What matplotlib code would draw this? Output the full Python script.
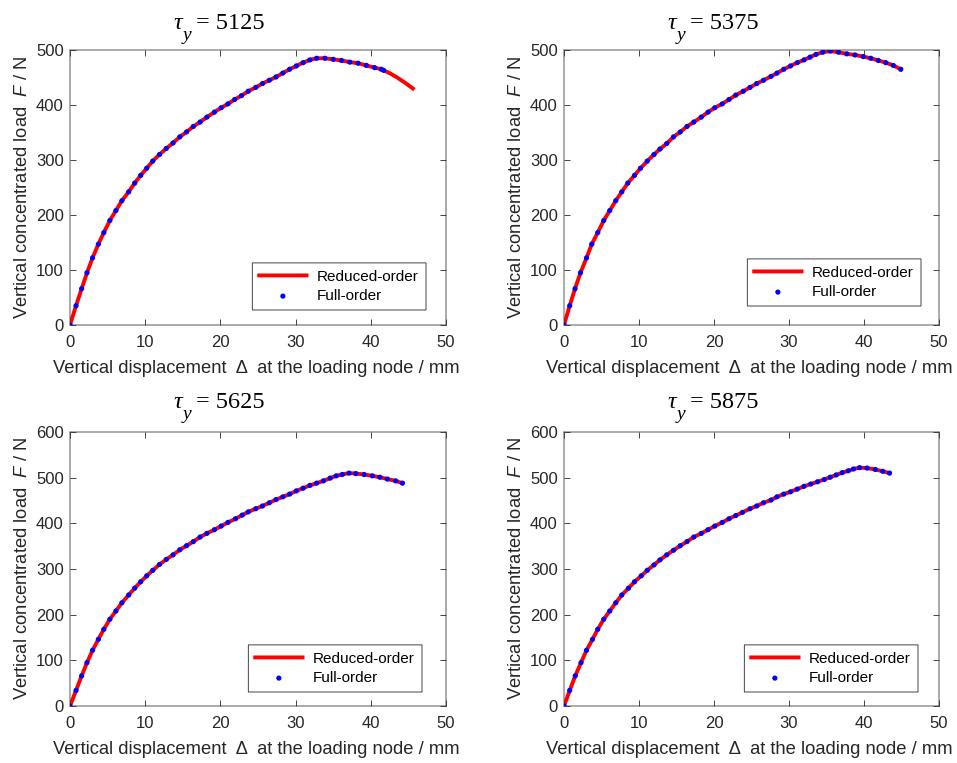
import matplotlib
matplotlib.use("Agg")
import matplotlib.pyplot as plt

plt.rcParams['font.family'] = ['Liberation Sans', 'DejaVu Sans']
plt.rcParams['mathtext.fontset'] = 'custom'
plt.rcParams['mathtext.it'] = 'Liberation Sans:italic'
plt.rcParams['mathtext.rm'] = 'Liberation Sans'
plt.rcParams['path.snap'] = False

titles = ['5125', '5375', '5625', '5875']

# Full-order results (displacement mm, load N)
full_x1 = [0, 0.8, 1.55, 2.26, 3.0, 3.77, 4.5, 5.3, 6.1, 6.9, 7.8, 8.6, 9.4, 10.2, 11.0, 11.9,
           12.8, 13.7, 14.6, 15.5, 16.4, 17.3, 18.2, 19.2, 20.1, 21.0, 21.9, 22.8, 23.7, 24.7,
           25.6, 26.5, 27.4, 28.3, 29.2, 30.1, 31.0, 31.9, 32.8, 33.9, 35.0, 36.1, 37.2, 38.3,
           39.4, 40.5, 41.4, 41.7]
full_y1 = [0, 35, 66, 95, 122, 147, 168, 190, 208, 226, 242, 258, 272, 285, 298, 310,
           321, 331, 342, 351, 361, 369, 378, 387, 395, 402, 410, 417, 425, 432,
           439, 445, 451, 458, 465, 471, 477, 482, 485, 485, 483, 481, 478, 476,
           472, 468, 465, 463]

full_x2 = [0, 0.76, 1.47, 2.2, 3.0, 3.7, 4.5, 5.3, 6.1, 6.9, 7.7, 8.5, 9.4, 10.2, 11.1, 12.0,
           12.8, 13.7, 14.6, 15.5, 16.4, 17.3, 18.3, 19.2, 20.1, 21.1, 22.0, 22.9, 23.9, 24.8,
           25.7, 26.6, 27.6, 28.4, 29.3, 30.2, 31.1, 32.0, 32.8, 33.6, 34.5, 35.5, 36.6, 37.7,
           38.8, 39.9, 40.9, 41.9, 42.9, 43.9, 44.9]
full_y2 = [0, 35, 66, 95, 122, 147, 168, 190, 208, 226, 242, 258, 272, 285, 298, 310,
           320, 330, 342, 351, 361, 369, 378, 387, 395, 402, 410, 418, 425, 432,
           439, 445, 452, 458, 465, 471, 477, 482, 487, 492, 496, 498, 496, 493,
           491, 488, 485, 481, 477, 472, 465]

full_x3 = [0, 0.8, 1.55, 2.26, 3.0, 3.77, 4.5, 5.3, 6.1, 6.9, 7.8, 8.6, 9.4, 10.2, 11.0, 11.9,
           12.8, 13.7, 14.6, 15.5, 16.4, 17.3, 18.2, 19.2, 20.1, 21.0, 22.0, 22.9, 23.7, 24.7,
           25.6, 26.5, 27.4, 28.3, 29.2, 30.1, 31.0, 31.9, 32.8, 33.7, 34.6, 35.4, 36.2, 37.1,
           38.0, 39.1, 40.2, 41.2, 42.2, 43.3, 44.2]
full_y3 = [0, 34, 66, 95, 122, 146, 168, 190, 208, 226, 243, 258, 272, 285, 297, 310,
           321, 331, 342, 351, 360, 370, 378, 386, 394, 402, 410, 418, 425, 432,
           438, 445, 452, 458, 464, 471, 477, 483, 488, 493, 499, 504, 507, 510,
           509, 507, 504, 501, 497, 493, 488]

full_x4 = [0, 0.76, 1.5, 2.27, 3.0, 3.8, 4.5, 5.3, 6.1, 6.9, 7.7, 8.6, 9.4, 10.3, 11.1, 12.0,
           12.8, 13.7, 14.6, 15.5, 16.4, 17.3, 18.3, 19.2, 20.1, 21.1, 22.0, 22.9, 23.8, 24.8,
           25.7, 26.6, 27.6, 28.4, 29.3, 30.2, 31.1, 32.0, 32.9, 33.8, 34.7, 35.5, 36.3, 37.1,
           37.9, 38.6, 39.4, 40.4, 41.5, 42.5, 43.4]
full_y4 = [0, 34, 66, 95, 122, 146, 168, 190, 208, 226, 243, 258, 272, 285, 297, 309,
           320, 331, 341, 351, 360, 370, 378, 386, 394, 402, 410, 417, 424, 432,
           438, 445, 451, 458, 464, 469, 475, 481, 486, 491, 496, 501, 506, 511,
           515, 519, 522, 521, 518, 514, 510]

# Reduced-order extra tail (only the first case extends beyond full-order)
tail_x1 = [42.5, 43.5, 44.5, 45.6]
tail_y1 = [458, 450, 441, 430]

red_x = [full_x1 + tail_x1, full_x2, full_x3, full_x4]
red_y = [full_y1 + tail_y1, full_y2, full_y3, full_y4]
full_x = [full_x1, full_x2, full_x3, full_x4]
full_y = [full_y1, full_y2, full_y3, full_y4]
ylims = [500, 500, 600, 600]

fig = plt.figure(figsize=(9.57, 7.63), dpi=100)
W, H = 957, 763
boxes = [(70, 50, 446, 325), (564, 50, 939, 325), (70, 432, 446, 706), (564, 432, 939, 706)]
title_rise = [21, 21, 24, 24]
leg_gap = [(20, 15), (18, 19), (24, 14), (21, 14)]
tc = '#262626'
serif = ['Liberation Serif', 'DejaVu Serif']
for i, (l, t, r, b) in enumerate(boxes):
    w, h = r - l, b - t
    ax = fig.add_axes([l / W, 1 - b / H, w / W, h / H])
    ax.plot(red_x[i], red_y[i], color='red', lw=2.8, label='Reduced-order', zorder=2)
    ax.scatter(full_x[i], full_y[i], s=14, color='blue', edgecolors='none',
               label='Full-order', zorder=3)
    ax.set_xlim(0, 50)
    ax.set_ylim(0, ylims[i])
    ax.set_xticks(range(0, 51, 10))
    ax.set_yticks(range(0, ylims[i] + 1, 100))
    ax.tick_params(direction='in', top=True, right=True, labelsize=12, colors=tc,
                   length=4, width=0.6)
    ax.tick_params(axis='x', pad=7.5)
    ax.tick_params(axis='y', pad=4.5)
    for s in ax.spines.values():
        s.set_color('#3a3a3a')
        s.set_linewidth(0.6)
    ax.set_xlabel('Vertical displacement  Δ  at the loading node / mm', fontsize=13.2, color=tc)
    ax.set_ylabel(r'Vertical concentrated load  $\it{F}$ / N', fontsize=13.2, color=tc)
    ax.xaxis.set_label_coords(0.495, -0.126)
    ax.yaxis.set_label_coords(-0.103, 0.5)

    # title: tau with low subscript y, MATLAB style
    ty = 1 + title_rise[i] / h
    tx = 103 / w
    ax.annotate('τ', xy=(tx, ty), xycoords='axes fraction', fontsize=17.5,
                family=serif, style='italic', va='baseline', ha='left', color='black')
    ax.annotate('y', xy=(tx, ty), xycoords='axes fraction', xytext=(7.0, -8.2),
                textcoords='offset points', fontsize=14, family=serif, style='italic',
                va='baseline', ha='left', color='black')
    ax.annotate('= ' + titles[i], xy=(tx, ty), xycoords='axes fraction', xytext=(16.5, 0),
                textcoords='offset points', fontsize=17.5, family=serif,
                va='baseline', ha='left', color='black')

    gx, gy = leg_gap[i]
    leg = ax.legend(loc='lower right', bbox_to_anchor=(1 - gx / w, gy / h), borderaxespad=0,
                    fontsize=11, frameon=True, fancybox=False, scatterpoints=1,
                    edgecolor=tc, framealpha=1, handlelength=3.1,
                    handletextpad=0.7, borderpad=0.45, labelspacing=0.35)
    leg.get_frame().set_linewidth(0.6)

fig.savefig('out.png', dpi=100)
